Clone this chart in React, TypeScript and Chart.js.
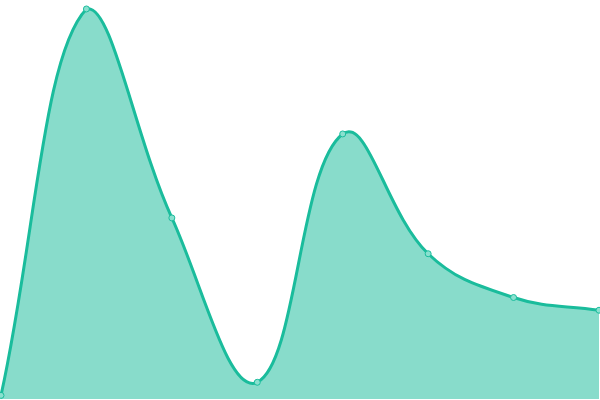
import React, { useEffect, useRef } from "react";
import { Chart, registerables } from "chart.js";

Chart.register(...registerables);

const categories = ["A", "B", "C", "D", "E", "F", "G", "H"];
const seriesValues = [0.9, 98, 45.5, 4.2, 66.6, 36.5, 25.5, 22.3];
const yMin = 0;
const yMax = 100;

export default function App() {
  const ref = useRef<HTMLCanvasElement | null>(null);
  useEffect(() => {
    if (!ref.current) return;
    const chart = new Chart(ref.current, {
      type: "line",
      data: {
        labels: categories,
        datasets: [
          {
            data: seriesValues,
            borderColor: "#1abc9c",
            backgroundColor: "rgba(26,188,156,0.52)",
            borderWidth: 3,
            fill: true,
            tension: 0.4,
            pointRadius: 3,
            pointBorderWidth: 1,
            pointBackgroundColor: "#8ae0cf",
            pointBorderColor: "#1abc9c",
          },
        ],
      },
      options: {
        animation: false,
        responsive: true,
        maintainAspectRatio: false,
        layout: { padding: 0 },
        plugins: { legend: { display: false }, tooltip: { enabled: false } },
        scales: {
          x: { display: false, offset: false },
          y: { display: false, min: yMin, max: yMax },
        },
      },
    });
    return () => chart.destroy();
  }, []);
  return (
    <div style={{ position: "fixed", left: -4, top: -4, width: 608, height: 408 }}>
      <canvas ref={ref} />
    </div>
  );
}
